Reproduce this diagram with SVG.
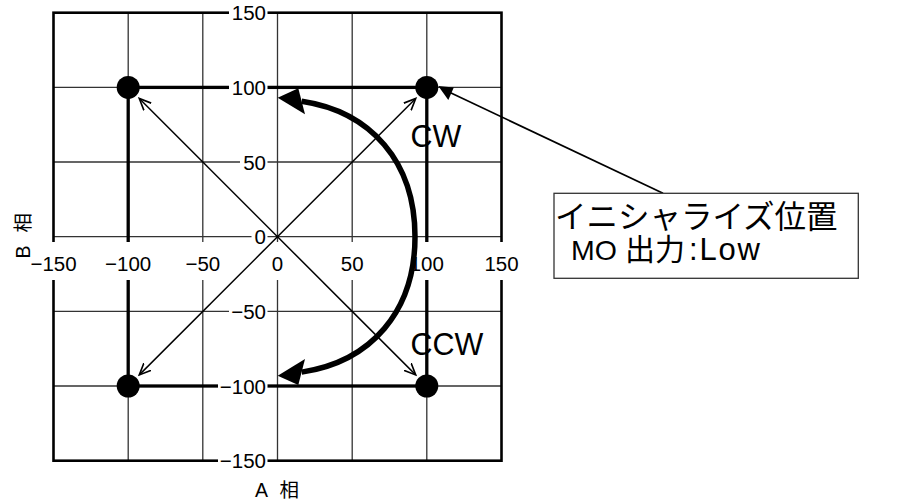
<svg xmlns="http://www.w3.org/2000/svg" width="907" height="504" viewBox="0 0 907 504">
<style>
.grid{stroke:#333;stroke-width:1.3;fill:none}
.frame{stroke:#000;stroke-width:2.6;fill:none}
.thick{stroke:#000;stroke-width:3.3;fill:none}
.knock{fill:#fff;stroke:none}
.tick{font-family:"Liberation Sans",Arial,sans-serif;font-size:20.5px;fill:#000}
.ylab{text-anchor:end}
.xlab{text-anchor:middle}
.big{font-family:"Liberation Sans",Arial,sans-serif;font-size:30.5px;fill:#000}
.jp{font-family:"Liberation Sans","Noto Sans CJK JP",sans-serif;fill:#000}
.diag{stroke:#000;stroke-width:1.5;fill:none}
.dot{fill:#000}
</style>
<defs>
<marker id="vee" markerUnits="userSpaceOnUse" markerWidth="14" markerHeight="12" viewBox="0 0 12 10" refX="10" refY="5" orient="auto">
<path d="M0,0.6 L10,5 L0,9.4" fill="none" stroke="#000" stroke-width="1.4"/>
</marker>
</defs>
<rect x="0" y="0" width="907" height="504" fill="#fff"/>
<g id="grid">
<path class="grid" d="M128.2,12.7V460.7M202.8,12.7V460.7M277.5,12.7V460.7M352.2,12.7V460.7M426.8,12.7V460.7M53.5,87.4H501.5M53.5,162H501.5M53.5,236.7H501.5M53.5,311.4H501.5M53.5,386H501.5"/>
<rect class="frame" x="53.5" y="12.7" width="448" height="448"/>
<rect class="thick" x="128.2" y="87.4" width="298.6" height="298.6"/>
</g>
<g id="axis-labels">
<rect class="knock" x="229" y="2" width="38.5" height="21"/>
<rect class="knock" x="229" y="77" width="38.5" height="21"/>
<rect class="knock" x="240" y="152" width="27.5" height="20"/>
<rect class="knock" x="251.5" y="226" width="16" height="20"/>
<rect class="knock" x="229" y="301" width="38.5" height="21"/>
<rect class="knock" x="218" y="376" width="49.5" height="21"/>
<rect class="knock" x="218" y="450" width="49.5" height="21"/>
<rect class="knock" x="28.5" y="242" width="50" height="38"/>
<rect class="knock" x="103" y="242" width="50" height="38"/>
<rect class="knock" x="184" y="242" width="37.5" height="38"/>
<rect class="knock" x="270" y="242" width="15" height="38"/>
<rect class="knock" x="339" y="242" width="26.5" height="38"/>
<rect class="knock" x="408" y="242" width="37.5" height="38"/>
<rect class="knock" x="482.5" y="242" width="38" height="38"/>
<text class="tick ylab" x="266" y="20.2">150</text>
<text class="tick ylab" x="266" y="94.9">100</text>
<text class="tick ylab" x="266" y="169.5">50</text>
<text class="tick ylab" x="266" y="244.2">0</text>
<text class="tick ylab" x="266" y="318.9">−50</text>
<text class="tick ylab" x="266" y="393.5">−100</text>
<text class="tick ylab" x="266" y="468.2">−150</text>
<text class="tick xlab" x="53.5" y="271">−150</text>
<text class="tick xlab" x="128.2" y="271">−100</text>
<text class="tick xlab" x="202.8" y="271">−50</text>
<text class="tick xlab" x="277.5" y="271">0</text>
<text class="tick xlab" x="352.2" y="271">50</text>
<text class="tick xlab" x="426.8" y="271">100</text>
<text class="tick xlab" x="501.5" y="271">150</text>
<text class="jp" font-size="19.5" x="255" y="497"><tspan>A</tspan> <tspan x="279.5">相</tspan></text>
<text class="jp" font-size="19.5" transform="translate(30,258.5) rotate(-90)" x="0" y="0"><tspan>B</tspan> <tspan x="26">相</tspan></text>
<text class="big" x="410.5" y="147">CW</text>
<text class="big" x="410.5" y="355">CCW</text>
</g>
<g id="connectors">
<line class="diag" x1="277.5" y1="236.7" x2="139.3" y2="98.5" marker-end="url(#vee)"/>
<line class="diag" x1="277.5" y1="236.7" x2="415.7" y2="98.5" marker-end="url(#vee)"/>
<line class="diag" x1="277.5" y1="236.7" x2="139.3" y2="374.9" marker-end="url(#vee)"/>
<line class="diag" x1="277.5" y1="236.7" x2="415.7" y2="374.9" marker-end="url(#vee)"/>
<path d="M301.7,101.3 C370.9,111.7 415,161.7 415,236.7 C415,311.7 370.9,361.7 301.7,372.1" fill="none" stroke="#000" stroke-width="5.5"/>
<polygon points="277.7,97.7 298.3,88.3 305,114.3" fill="#000"/>
<polygon points="277.7,375.7 298.3,385.1 305,359.1" fill="#000"/>
<line x1="663" y1="193.3" x2="450" y2="92.5" stroke="#000" stroke-width="1.7"/>
<polygon points="438.3,86 448.3,100 453.8,87.5" fill="#000"/>
</g>
<g id="dot-p1"><circle class="dot" cx="128.2" cy="87.4" r="11.5"/></g>
<g id="dot-p2"><circle class="dot" cx="426.8" cy="87.4" r="11.5"/></g>
<g id="dot-p3"><circle class="dot" cx="128.2" cy="386" r="11.5"/></g>
<g id="dot-p4"><circle class="dot" cx="426.8" cy="386" r="11.5"/></g>
<g id="callout">
<rect x="554" y="193.3" width="304.3" height="85" fill="#fff" stroke="#333" stroke-width="1.3"/>
<text class="jp" font-size="31.5" x="555" y="228">イニシャライズ位置</text>
<text class="jp" font-size="30" y="260"><tspan x="571" font-size="28.5">MO</tspan> <tspan x="625">出力</tspan><tspan x="689" font-size="31" textLength="71" lengthAdjust="spacing">:Low</tspan></text>
</g>
</svg>
